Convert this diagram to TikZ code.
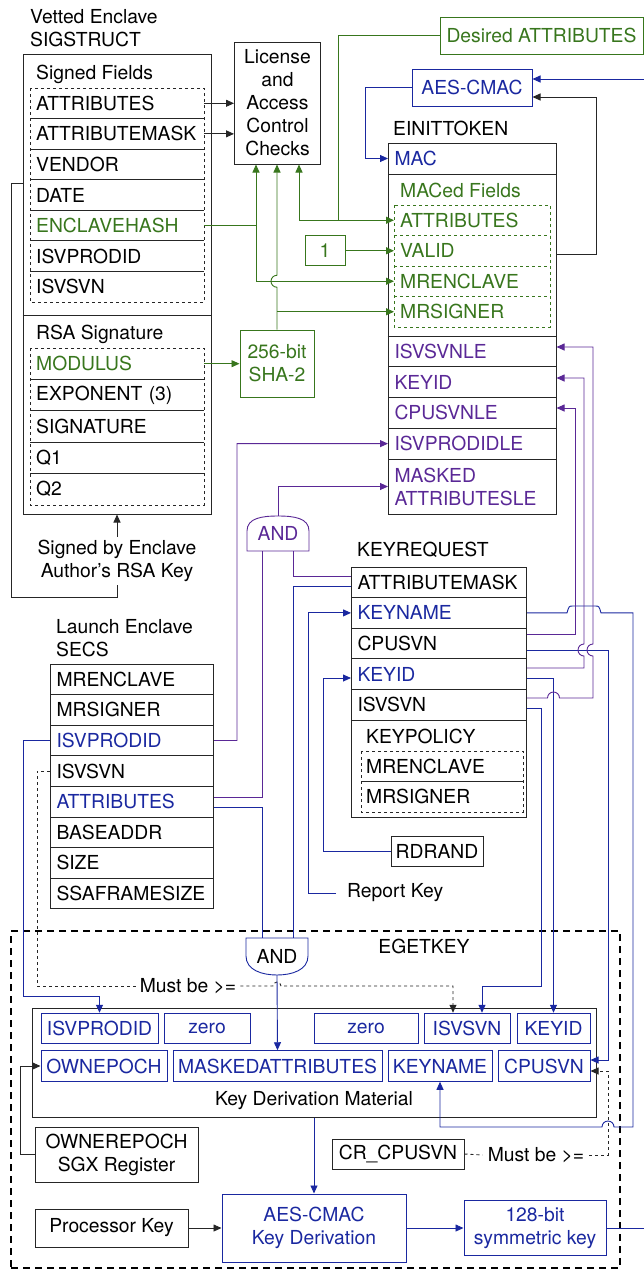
\documentclass[tikz,border=0pt]{standalone}
\usepackage{fontspec}
\setmainfont{TeX Gyre Heros}
\usepackage{tikz}
\usetikzlibrary{arrows.meta}
\usetikzlibrary{calc}
\definecolor{sgxgreen}{RGB}{56,118,29}
\definecolor{sgxblue}{RGB}{26,40,160}
\definecolor{sgxpurple}{RGB}{90,40,150}
\tikzstyle{box}=[draw=black!85, line width=1pt]
\tikzstyle{heading}=[anchor=west, inner sep=0pt, align=left]
\tikzstyle{field}=[anchor=west, inner xsep=6pt, inner ysep=0pt, minimum height=30.6pt, align=left]
\tikzstyle{sigrow}=[field, text width=162pt]
\tikzstyle{secsrow}=[field, box, text width=151pt]
\tikzstyle{reqrow}=[field, box, text width=163pt]
\tikzstyle{tokrow}=[field, box, text width=156pt, text=sgxpurple, minimum height=30.75pt]
\tikzstyle{macrow}=[field, text width=144pt, text=sgxgreen, minimum height=30.5pt]
\tikzstyle{polrow}=[field, inner xsep=5pt, text width=152pt, minimum height=30.5pt]
\tikzstyle{kdbox}=[draw=sgxblue, line width=1pt, text=sgxblue, inner xsep=2pt, inner ysep=0pt, minimum height=30.5pt]
\tikzstyle{tip}=[-{Triangle[length=8pt,width=7pt]}]
\tikzstyle{kline}=[draw=black!85, line width=0.9pt]
\tikzstyle{gline}=[draw=sgxgreen, line width=0.9pt]
\tikzstyle{bline}=[draw=sgxblue, line width=0.9pt]
\tikzstyle{pline}=[draw=sgxpurple, line width=0.9pt]
\tikzstyle{karrow}=[kline, tip]
\tikzstyle{garrow}=[gline, tip]
\tikzstyle{barrow}=[bline, tip]
\tikzstyle{parrow}=[pline, tip]
\tikzstyle{dline}=[kline, dashed]
\tikzstyle{darrow}=[kline, dashed, tip]

\begin{document}
\begin{tikzpicture}[x=1pt, y=-1pt, font=\fontsize{19.3}{23}\selectfont]
    \useasboundingbox (0,0) rectangle (644,1270);

    %sigstruct
    \node[heading] (sigtitle) at (30,28.5) {Vetted Enclave\\SIGSTRUCT};
    \node[box, minimum width=188pt, minimum height=460pt] (sig) at (117,284) {};
    \draw[box] (sig.west |- 0,315) -- (sig.east |- 0,315);
    \node[heading] (signedtitle) at (36,74) {Signed Fields};
    \draw[box, dashed] (30,88) rectangle (204,302);
    \foreach \nm/\txt/\col [count=\i] in {sattr/ATTRIBUTES/black, samask/ATTRIBUTEMASK/black, svendor/VENDOR/black, sdate/DATE/black, senc/ENCLAVEHASH/sgxgreen, sprodid/ISVPRODID/black, ssvn/ISVSVN/black} {
    \node[sigrow, text=\col] (\nm) at (30,{88+30.57*(\i-0.5)}) {\txt};
    }
    \foreach \i in {1,...,6} {\draw[box] (30,{88+30.57*\i}) -- (204,{88+30.57*\i});}
    \node[heading] (rsatitle) at (36,334) {RSA Signature};
    \draw[box, dashed] (30,348) rectangle (204,505);
    \foreach \nm/\txt/\col [count=\i] in {smod/MODULUS/sgxgreen, sexp/EXPONENT (3)/black, ssig/SIGNATURE/black, sq1/Q1/black, sq2/Q2/black} {
    \node[sigrow, text=\col, minimum height=31.4pt] (\nm) at (30,{348+31.4*(\i-0.5)}) {\txt};
    }
    \foreach \i in {1,...,4} {\draw[box] (30,{348+31.4*\i}) -- (204,{348+31.4*\i});}
    \node[align=center] (signedby) at (117,561) {Signed by Enclave\\Author’s RSA Key};

    %checks
    \node[box, align=center, inner sep=0pt, minimum width=86pt, minimum height=122pt] (lic) at (277.5,103) {License\\and\\Access\\Control\\Checks};
    \node[box, draw=sgxgreen, text=sgxgreen, align=center, minimum width=74pt, minimum height=67pt] (sha) at (277,363.5) {256-bit\\SHA-2};
    \node[box, draw=sgxgreen, text=sgxgreen, minimum width=40pt, minimum height=30pt] (one) at (325,250.75) {1};
    \node[box, draw=sgxgreen, text=sgxgreen, minimum width=203pt, minimum height=37pt] (desired) at (541.5,35.5) {Desired ATTRIBUTES};
    \node[box, draw=sgxblue, text=sgxblue, minimum width=120pt, minimum height=37pt] (aes) at (472,87.5) {AES-CMAC};

    %einittoken
    \node[heading] (toktitle) at (393,128) {EINITTOKEN};
    \node[box, minimum width=168pt, minimum height=371pt] (einit) at (472,328.5) {};
    \node[tokrow, text=sgxblue, minimum height=31pt] (tmac) at (388,158.5) {MAC};
    \node[heading, text=sgxgreen] (mactitle) at (400,190) {MACed Fields};
    \draw[box, draw=sgxgreen, dashed] (394,205) rectangle (550,327);
    \foreach \nm/\txt [count=\i] in {tattr/ATTRIBUTES, tvalid/VALID, tmrenc/MRENCLAVE, tmrsig/MRSIGNER} {
    \node[macrow] (\nm) at (394,{205+30.5*(\i-0.5)}) {\txt};
    }
    \foreach \i in {1,2,3} {\draw[box, draw=sgxgreen, dashed] (394,{205+30.5*\i}) -- (550,{205+30.5*\i});}
    \draw[box] (einit.west |- 0,336) -- (einit.east |- 0,336);
    \foreach \nm/\txt [count=\i] in {tisvle/ISVSVNLE, tkeyid/KEYID, tcpule/CPUSVNLE, tprodle/ISVPRODIDLE} {
    \node[tokrow] (\nm) at (388,{336+30.75*(\i-0.5)}) {\txt};
    }
    \node[tokrow, minimum height=55pt] (tmasked) at (388,486.5) {MASKED\\ATTRIBUTESLE};

    %keyrequest
    \node[heading] (reqtitle) at (357,550) {KEYREQUEST};
    \foreach \nm/\txt/\col [count=\i] in {kattrmask/ATTRIBUTEMASK/black, kkeyname/KEYNAME/sgxblue, kcpusvn/CPUSVN/black, kkeyid/KEYID/sgxblue, kisvsvn/ISVSVN/black} {
    \node[reqrow, text=\col] (\nm) at (351,{567+30.6*(\i-0.5)}) {\txt};
    }
    \node[box, minimum width=175pt, minimum height=97pt] (kpolicy) at (438.5,768.5) {};
    \node[heading] (poltitle) at (366,736) {KEYPOLICY};
    \draw[box, dashed] (361,751) rectangle (523,812);
    \draw[box] (361,781.5) -- (523,781.5);
    \node[polrow] (pmrenc) at (361,766.25) {MRENCLAVE};
    \node[polrow] (pmrsig) at (361,796.75) {MRSIGNER};
    \node[box, minimum width=92pt, minimum height=30pt] (rdrand) at (437,851) {RDRAND};
    \node[heading, inner xsep=11pt] (repkey) at (336,893) {Report Key};

    %secs
    \node[heading] (secstitle) at (56,638) {Launch Enclave\\SECS};
    \foreach \nm/\txt/\col [count=\i] in {lmrenc/MRENCLAVE/black, lmrsig/MRSIGNER/black, lisvprodid/ISVPRODID/sgxblue, lisvsvn/ISVSVN/black, lattr/ATTRIBUTES/sgxblue, lbase/BASEADDR/black, lsize/SIZE/black, lssa/SSAFRAMESIZE/black} {
    \node[secsrow, text=\col] (\nm) at (50,{664+30.6*(\i-0.5)}) {\txt};
    }

    %and gates
    \draw[pline] (247,551) -- (247,531) .. controls (247,518) and (262,516) .. (278,516) .. controls (294,516) and (309,518) .. (309,531) -- (309,551) -- cycle;
    \node[text=sgxpurple, minimum width=62pt, minimum height=35pt] (anda) at (278,533.5) {AND};
    \draw[bline] (246,938) -- (246,956) .. controls (246,970) and (262,975) .. (277,975) .. controls (292,975) and (308,970) .. (308,956) -- (308,938) -- cycle;
    \node[minimum width=62pt, minimum height=37pt] (andb) at (277,956.5) {AND};

    %egetkey
    \node[draw=black, line width=1.6pt, dash pattern=on 7pt off 5pt, minimum width=609pt, minimum height=337pt] (egetkey) at (315.5,1099.5) {};
    \node (egtitle) at (424,946) {EGETKEY};
    \node[box, minimum width=564pt, minimum height=109pt] (kdm) at (314,1062.5) {};
    \node (kdmtitle) at (314,1101) {Key Derivation Material};
    \foreach \nm/\x/\w/\txt in {dISVPRODID/99.5/117/ISVPRODID, dzeroa/207/86/zero, dzerob/366/104/zero, dISVSVN/467/86/ISVSVN, dKEYID/553.5/73/KEYID} {
    \node[kdbox, minimum width=\w] (\nm) at (\x,1028.5) {\txt};
    }
    \foreach \nm/\x/\w/\txt in {dOWNEPOCH/104/126/OWNEPOCH, dMASKED/277.5/209/MASKEDATTRIBUTES, dKEYNAME/440/104/KEYNAME, dCPUSVN/544/92/CPUSVN} {
    \node[kdbox, minimum width=\w] (\nm) at (\x,1066) {\txt};
    }
    \node[box, align=center, minimum width=163pt, minimum height=55pt] (ownreg) at (116.5,1154.5) {OWNEREPOCH\\SGX Register};
    \node[box, minimum width=153pt, minimum height=38pt] (prockey) at (111.5,1228) {Processor Key};
    \node[box, draw=sgxblue, text=sgxblue, align=center, minimum width=184pt, minimum height=68pt] (aeskd) at (314,1228) {AES-CMAC\\Key Derivation};
    \node[box, draw=sgxblue, text=sgxblue, align=center, minimum width=142pt, minimum height=55pt] (key128) at (535,1228) {128-bit\\symmetric key};
    \node[box, minimum width=132pt, minimum height=30pt] (crcpu) at (398,1154) {CR\_CPUSVN};
    \node[inner xsep=4pt] (must1) at (188,986) {Must be >=};
    \node[inner xsep=5pt] (must2) at (536,1155) {Must be >=};

    %black connectors
    \draw[karrow] (sattr.east) -- (lic.west |- sattr.east);
    \draw[karrow] (samask.east) -- (lic.west |- samask.east);
    \draw[karrow] (signedby.north) -- (signedby.north |- sig.south);
    \draw[kline] (signedby.south) -- (117,597) -| (11,183) -- (sig.west |- 0,183);
    \draw[karrow] (einit.east |- 0,254) -| (596,97) -- (aes.east |- 0,97);
    \draw[karrow] (ownreg.west) -| (20,1066) -- (dOWNEPOCH.west);
    \draw[karrow] (prockey.east) -- (aeskd.west);
    \draw[dline] (lisvsvn.west) -| (37,986) -- (must1.west);
    \draw[darrow] (must1.east) -- (273,986) arc[start angle=180, end angle=0, radius=4pt] -| (dISVSVN.north -| 453,0);
    \draw[dline] (crcpu.east) -- (must2.west);
    \draw[darrow] (must2.east) -| (608,1071) -- (dCPUSVN.east |- 0,1071);

    %green connectors
    \draw[garrow] (senc.east) -| (lic.south -| 256,0);
    \draw[garrow] (256,226) |- (tmrenc.west);
    \draw[garrow] (sha.north) -- (277,287.25) arc[start angle=270, end angle=90, radius=6pt] -- (sha.north |- lic.south);
    \draw[garrow] (sha.north |- tmrsig.west) -- (tmrsig.west);
    \draw[garrow] (one.east) -- (tvalid.west);
    \draw[garrow] (smod.east) -- (sha.west |- smod.east);
    \draw[garrow] (desired.west) -| (tattr.west -| 338,0) -- (tattr.west);
    \draw[garrow] (tattr.west -| 338,0) -| (lic.south -| 299,0);

    %blue connectors
    \draw[barrow] (aes.west) -- ++(-46,0) |- (tmac.west);
    \draw[barrow] (key128.east) -- (652,1228) |- (aes.east |- 0,79);
    \draw[barrow] (kdm.south) -- (aeskd.north);
    \draw[barrow] (aeskd.east) -- (key128.west);
    \draw[barrow] (lisvprodid.west) -| (23,996) -| (dISVPRODID.north);
    \draw[bline] (lattr.east |- 0,807) -| (andb.north -| 262,0);
    \draw[bline] (kattrmask.west |- 0,586) -| (andb.north -| 293,0);
    \draw[barrow] (andb.south) -- (dMASKED.north);
    \draw[barrow] (repkey.west) -| (kkeyname.west -| 308,0) -- (kkeyname.west);
    \draw[barrow] (rdrand.west) -| (323,678) -- (kkeyid.west |- 0,678);
    \draw[barrow] (kkeyname.east) -- (567,612.9) .. controls (569,606) .. (573,606) -- (595,606) .. controls (599,606) .. (601,612.9) -- (633,612.9) -- (633,1127) -- (614,1127) arc[start angle=0, end angle=180, radius=6pt] -| (dKEYNAME.south);
    \draw[barrow] (kcpusvn.east |- 0,650) -| (608,1060) -- (dCPUSVN.east |- 0,1060);
    \draw[barrow] (kkeyid.east |- 0,678) -| (dKEYID.north);
    \draw[barrow] (kisvsvn.east |- 0,708) -| (541,986) -| (dISVSVN.north -| 482,0);

    %purple connectors
    \draw[parrow] (lisvprodid.east) -| (237,443.6) -- (tprodle.west);
    \draw[pline] (lattr.east |- 0,797) -| (anda.south -| 262,0);
    \draw[pline] (kattrmask.west |- 0,576) -| (anda.south -| 293,0);
    \draw[parrow] (anda.north) |- (tmasked.west);
    \draw[parrow] (kcpusvn.east |- 0,634) -| (575,408) -- (einit.east |- 0,408);
    \draw[parrow] (kkeyid.east |- 0,668) -| (584,656) arc[start angle=270, end angle=90, radius=6pt] |- (einit.east |- 0,378);
    \draw[parrow] (kisvsvn.east |- 0,698) -- (547.5,698) arc[start angle=180, end angle=0, radius=6pt] -| (593,656) arc[start angle=270, end angle=90, radius=6pt] |- (einit.east |- 0,347);

\end{tikzpicture}
\end{document}
